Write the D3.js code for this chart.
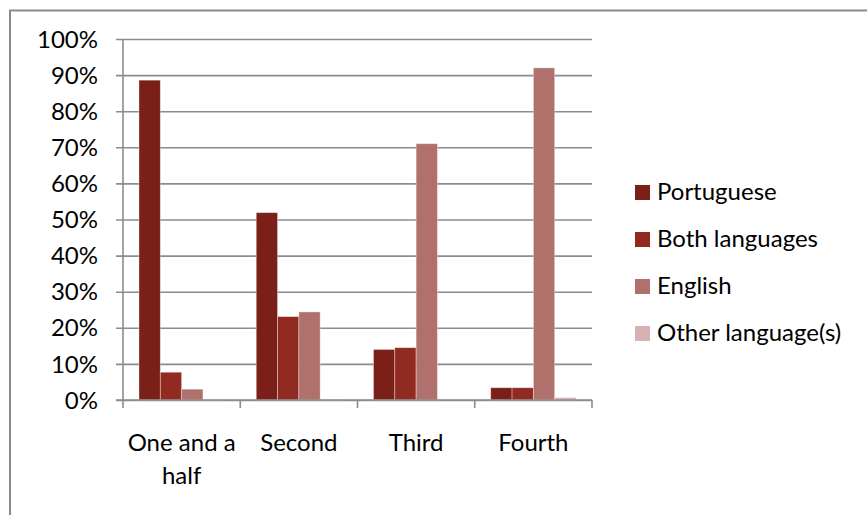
<!DOCTYPE html>
<html>
<head>
<meta charset="utf-8">
<script src="https://cdn.jsdelivr.net/npm/d3@7"></script>
<style>
  html, body { margin: 0; padding: 0; background: #fff; }
  svg { display: block; }
  text { font-family: Lato, "Open Sans", sans-serif; fill: #000; }
</style>
</head>
<body>
<svg id="chart" width="867" height="515"></svg>
<script>
// Grade categories (first label wraps onto two lines)
const categories = ["One and a half", "Second", "Third", "Fourth"];
const categoryLines = [["One and a", "half"], ["Second"], ["Third"], ["Fourth"]];

// Language series, shares per grade (0–1)
const seriesNames = ["Portuguese", "Both languages", "English", "Other language(s)"];
const portuguese = [0.886, 0.519, 0.140, 0.034];
const bothLanguages = [0.077, 0.231, 0.145, 0.034];
const english = [0.030, 0.244, 0.710, 0.920];
const otherLanguages = [0.001, 0.002, 0.000, 0.007];

const seriesColors = ["#7a2019", "#912a20", "#b0716d", "#d8b2b0"];
const yTicks = [0, 0.1, 0.2, 0.3, 0.4, 0.5, 0.6, 0.7, 0.8, 0.9, 1.0];

const seriesValues = [portuguese, bothLanguages, english, otherLanguages];
const fontSize = 24;

const svg = d3.select("#chart");

// Outer frame of the chart area
svg.append("rect")
  .attr("x", 10).attr("y", 10.5)
  .attr("width", 900).attr("height", 600)
  .attr("fill", "none").attr("stroke", "#8a8a8a").attr("stroke-width", 2);

const plot = { left: 123, right: 592, top: 39, bottom: 400 };

const x = d3.scaleBand()
  .domain(categories)
  .range([plot.left, plot.right])
  .paddingInner(0).paddingOuter(0);

const inner = d3.scaleBand()
  .domain(seriesNames)
  .range([0, x.bandwidth()])
  .paddingOuter(0.75).paddingInner(0);

const y = d3.scaleLinear().domain([0, 1]).range([plot.bottom, plot.top]);

// Horizontal gridlines with small left ticks
const yAxis = d3.axisLeft(y)
  .tickValues(yTicks)
  .tickFormat(d3.format(".0%"))
  .tickSize(plot.right - plot.left + 7);

const yg = svg.append("g")
  .attr("transform", `translate(${plot.right},0)`)
  .call(yAxis);
yg.select(".domain").remove();
yg.selectAll(".tick line")
  .attr("stroke", "#8c8c8c").attr("stroke-width", 1.6);
yg.selectAll(".tick text")
  .attr("font-size", fontSize)
  .attr("x", -(plot.right - plot.left) - 25)
  .attr("dy", "0.34em");

// Vertical axis line
svg.append("line")
  .attr("x1", plot.left).attr("x2", plot.left)
  .attr("y1", plot.top).attr("y2", plot.bottom)
  .attr("stroke", "#8c8c8c").attr("stroke-width", 1.6);

// Bars
const groups = svg.append("g").selectAll("g")
  .data(categories)
  .join("g")
  .attr("transform", d => `translate(${x(d)},0)`);

groups.selectAll("rect")
  .data((c, ci) => seriesNames.map((s, si) => ({ s, si, v: seriesValues[si][ci] })))
  .join("rect")
  .attr("x", d => inner(d.s))
  .attr("width", inner.bandwidth())
  .attr("y", d => y(d.v))
  .attr("height", d => y(0) - y(d.v))
  .attr("fill", d => seriesColors[d.si])
  .attr("stroke", "#ffffff").attr("stroke-opacity", 0.45).attr("stroke-width", 0.8);

// Category axis with ticks between groups
const xAxis = svg.append("g").attr("transform", `translate(0,${plot.bottom})`);
xAxis.append("line")
  .attr("x1", plot.left - 7).attr("x2", plot.right)
  .attr("y1", 0).attr("y2", 0)
  .attr("stroke", "#8c8c8c").attr("stroke-width", 1.6);
const boundaries = categories.map(c => x(c)).concat([x(categories[categories.length - 1]) + x.bandwidth()]);
xAxis.selectAll("line.tick")
  .data(boundaries)
  .join("line")
  .attr("class", "tick")
  .attr("x1", d => d).attr("x2", d => d)
  .attr("y1", 0).attr("y2", 8)
  .attr("stroke", "#8c8c8c").attr("stroke-width", 1.6);

const labels = xAxis.selectAll("text.cat")
  .data(categories)
  .join("text")
  .attr("class", "cat")
  .attr("text-anchor", "middle")
  .attr("font-size", fontSize)
  .attr("transform", d => `translate(${x(d) + x.bandwidth() / 2},43)`);
labels.each(function(d, i) {
  d3.select(this).selectAll("tspan")
    .data(categoryLines[i])
    .join("tspan")
    .attr("x", 0)
    .attr("y", (t, j) => j * 33)
    .attr("dy", "0.34em")
    .text(t => t);
});

// Legend
const legend = svg.append("g").attr("transform", "translate(635,192)");
const items = legend.selectAll("g")
  .data(seriesNames)
  .join("g")
  .attr("transform", (d, i) => `translate(0,${i * 47})`);
items.append("rect")
  .attr("x", 0).attr("y", -7)
  .attr("width", 15).attr("height", 15)
  .attr("fill", (d, i) => seriesColors[i]);
items.append("text")
  .attr("x", 22).attr("y", 0)
  .attr("dy", "0.34em")
  .attr("font-size", fontSize)
  .text(d => d);
</script>
</body>
</html>
